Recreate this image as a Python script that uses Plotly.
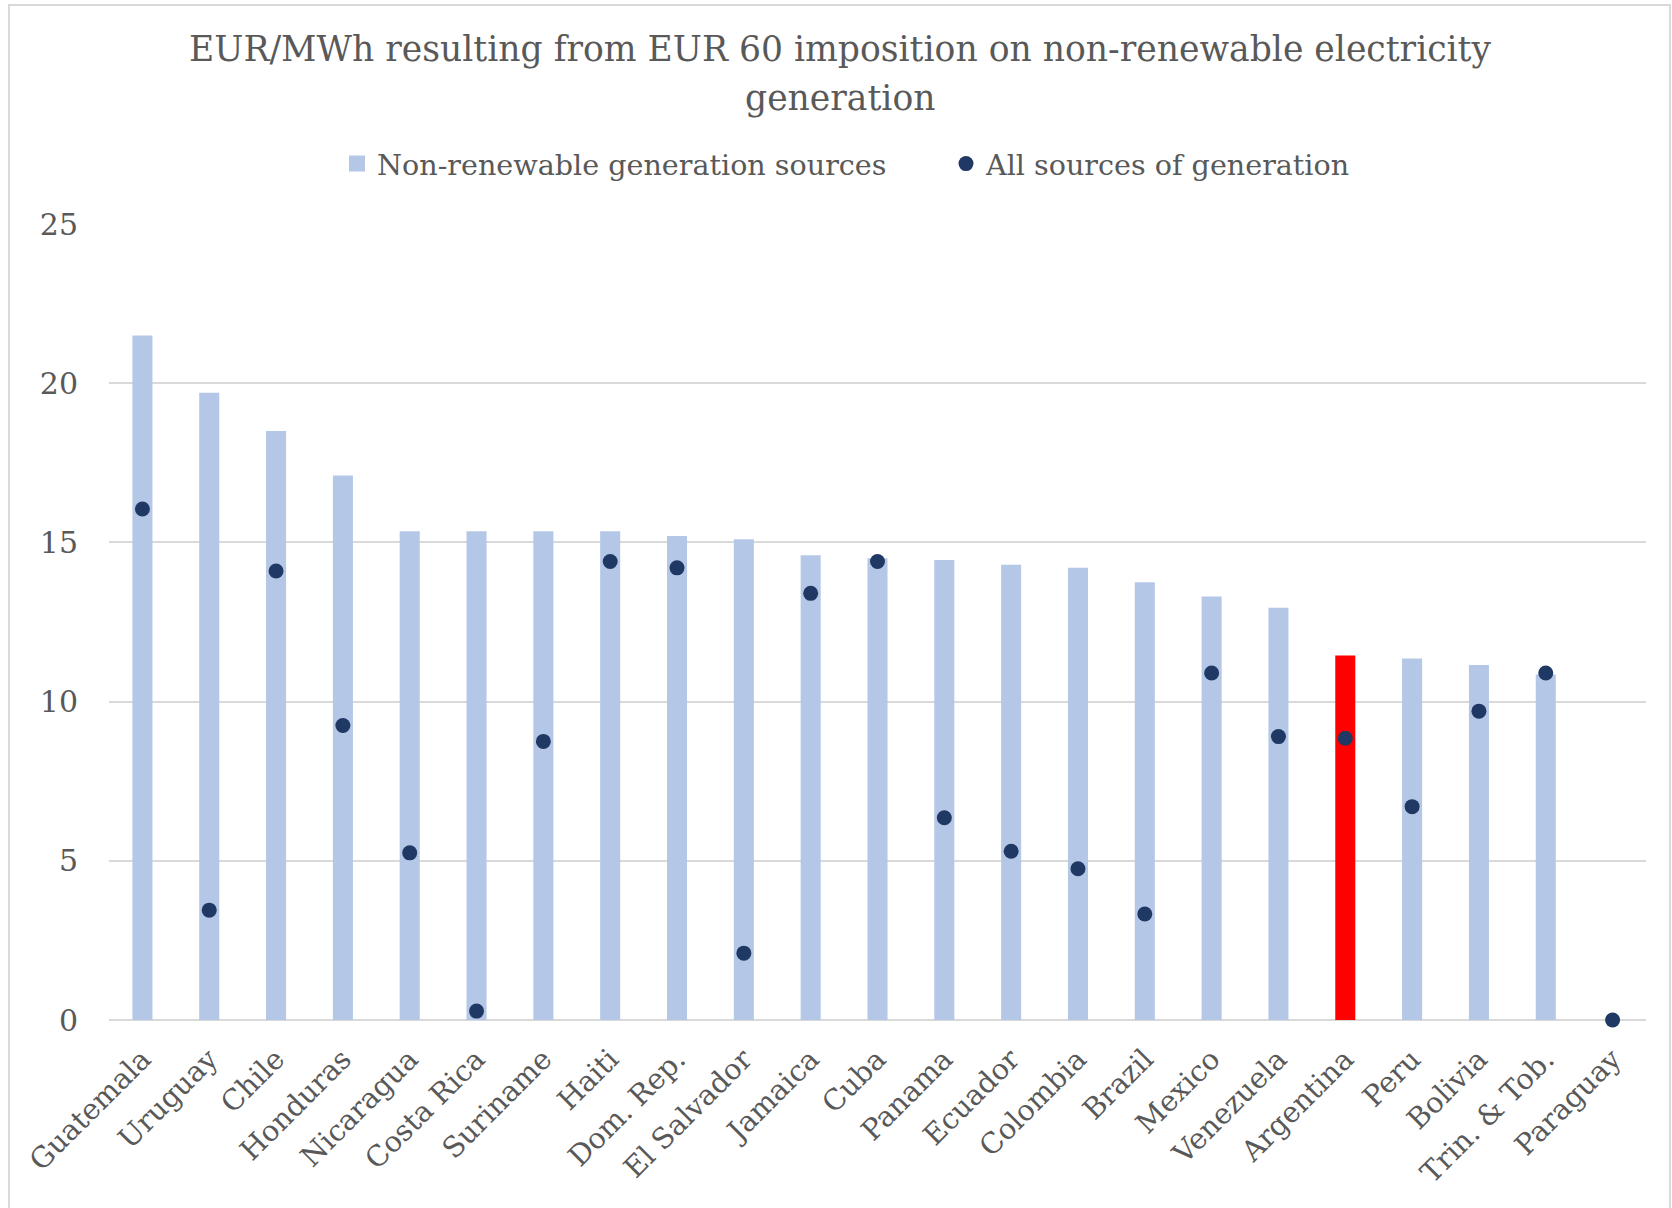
import plotly.graph_objects as go

# Countries, ordered by charge on non-renewable generation
countries = [
    "Guatemala", "Uruguay", "Chile", "Honduras", "Nicaragua", "Costa Rica",
    "Suriname", "Haiti", "Dom. Rep.", "El Salvador", "Jamaica", "Cuba",
    "Panama", "Ecuador", "Colombia", "Brazil", "Mexico", "Venezuela",
    "Argentina", "Peru", "Bolivia", "Trin. & Tob.", "Paraguay",
]

# EUR/MWh on non-renewable generation sources
non_renewable = [
    21.5, 19.7, 18.5, 17.1, 15.35, 15.35,
    15.35, 15.35, 15.2, 15.1, 14.6, 14.5,
    14.45, 14.3, 14.2, 13.75, 13.3, 12.95,
    11.45, 11.35, 11.15, 10.85, 0.0,
]

# EUR/MWh spread over all sources of generation
all_sources = [
    16.05, 3.45, 14.1, 9.25, 5.25, 0.28,
    8.75, 14.4, 14.2, 2.1, 13.4, 14.4,
    6.35, 5.3, 4.75, 3.33, 10.9, 8.9,
    8.85, 6.7, 9.7, 10.9, 0.0,
]

y_ticks = [0, 5, 10, 15, 20, 25]
highlight = "Argentina"
bar_name = "Non-renewable generation sources"
dot_name = "All sources of generation"

BAR_BLUE = "#B4C7E7"
DOT_NAVY = "#203864"
HIGHLIGHT_RED = "#FF0000"
TEXT_GREY = "#595959"
GRID_GREY = "#D9D9D9"
FONT = "DejaVu Serif"

W, H = 1672, 1208
M_L, M_R, M_T, M_B = 109, 26, 224, 188
PLOT_H = H - M_T - M_B
PLOT_W = W - M_L - M_R


def py(pix):
    """Pixel row from the top of the page -> paper y."""
    return (H - M_B - pix) / PLOT_H


def px(pix):
    """Pixel column from the left of the page -> paper x."""
    return (pix - M_L) / PLOT_W


bar_colors = [HIGHLIGHT_RED if c == highlight else BAR_BLUE for c in countries]

fig = go.Figure()
fig.add_trace(go.Bar(
    x=countries, y=non_renewable,
    name=bar_name, showlegend=False,
    marker=dict(color=bar_colors, line=dict(width=0)),
))
# Legend key for the bars: a larger square than the default bar swatch
fig.add_trace(go.Scatter(
    x=[None], y=[None], name=bar_name, mode="markers",
    marker=dict(color=BAR_BLUE, size=19, symbol="square"),
    hoverinfo="skip",
))
fig.add_trace(go.Scatter(
    x=countries, y=all_sources,
    name=dot_name,
    mode="markers",
    marker=dict(color=DOT_NAVY, size=15, symbol="circle"),
    cliponaxis=False,
))

# Two-line chart title
for text, row in [("EUR/MWh resulting from EUR 60 imposition on non-renewable electricity", 49),
                  ("generation", 98)]:
    fig.add_annotation(
        text=text,
        xref="paper", yref="paper", x=px(W / 2 + 4), y=py(row),
        xanchor="center", yanchor="middle", showarrow=False,
        font=dict(family=FONT, size=34.6, color=TEXT_GREY),
    )

# Light frame around the whole chart area
fig.add_shape(
    type="rect", xref="paper", yref="paper",
    x0=px(9), x1=px(1670), y0=py(1215), y1=py(5),
    line=dict(color=GRID_GREY, width=2), fillcolor="rgba(0,0,0,0)",
    layer="below",
)

fig.update_layout(
    width=W, height=H,
    margin=dict(l=M_L, r=M_R, t=M_T, b=M_B, autoexpand=False),
    paper_bgcolor="white", plot_bgcolor="white",
    bargap=0.70,
    showlegend=True,
    legend=dict(
        orientation="h", x=px(337), xanchor="left",
        y=py(164), yanchor="middle",
        font=dict(family=FONT, size=28.6, color=TEXT_GREY),
        itemsizing="trace", itemwidth=30,
        entrywidth=564, entrywidthmode="pixels",
        traceorder="normal",
    ),
    font=dict(family=FONT, color=TEXT_GREY),
)

fig.update_xaxes(
    type="category",
    range=[-0.5, len(countries) - 0.5],
    tickangle=-45,
    tickfont=dict(family=FONT, size=28.6, color=TEXT_GREY),
    showgrid=False, showline=False, zeroline=False,
    ticks="outside", ticklen=10, tickcolor="rgba(0,0,0,0)",
)
fig.update_yaxes(
    range=[0, 25],
    tickvals=y_ticks,
    tickfont=dict(family=FONT, size=30, color=TEXT_GREY),
    showgrid=True, gridcolor=GRID_GREY, gridwidth=2,
    zeroline=True, zerolinecolor=GRID_GREY, zerolinewidth=2,
    showline=False,
    ticks="outside", ticklen=24, tickcolor="rgba(0,0,0,0)",
)

fig.write_html("out.html")
